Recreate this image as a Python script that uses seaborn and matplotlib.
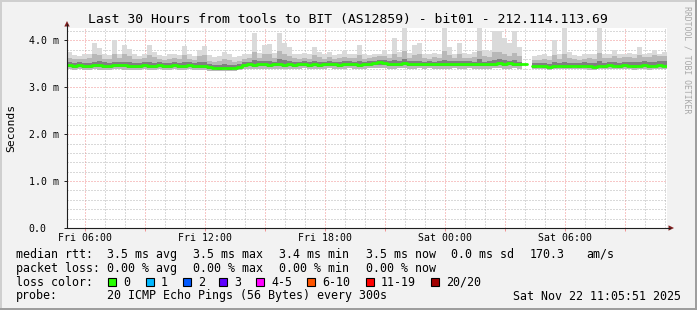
import numpy as np
import pandas as pd
import matplotlib
matplotlib.use("Agg")
import matplotlib.pyplot as plt
import seaborn as sns
from matplotlib.patches import Rectangle, Polygon
from matplotlib.lines import Line2D

# ---------------- data (ms), 15-minute slots starting Fri 05:06 ----------------
nan = np.nan
med = [3.47,3.46,3.47,3.45,3.46,3.47,3.48,3.46,3.45,3.47,
       3.48,3.47,3.46,3.45,3.46,3.47,3.46,3.45,3.47,3.46,
       3.46,3.47,3.45,3.46,3.47,3.46,3.45,3.46,3.43,3.42,
       3.41,3.42,3.41,3.42,3.43,3.48,3.49,3.48,3.50,3.49,
       3.48,3.49,3.50,3.48,3.49,3.48,3.49,3.50,3.48,3.49,
       3.48,3.49,3.50,3.49,3.48,3.49,3.50,3.49,3.48,3.49,
       3.50,3.51,3.53,3.52,3.50,3.49,3.50,3.52,3.50,3.49,
       3.50,3.49,3.50,3.49,3.50,3.49,3.49,3.50,3.49,3.50,
       3.50,3.49,3.50,3.49,3.50,3.50,3.52,3.50,3.51,3.50,
       3.49,3.50,nan,3.45,3.46,3.45,3.44,3.45,3.46,3.45,
       3.45,3.46,3.45,3.46,3.45,3.44,3.46,3.45,3.47,3.46,
       3.45,3.47,3.46,3.45,3.46,3.47,3.45,3.46,3.47,3.46]

ping_min = [3.38,3.37,3.38,3.36,3.37,3.38,3.37,3.37,3.36,3.38,
            3.38,3.37,3.36,3.37,3.37,3.38,3.36,3.37,3.38,3.37,
            3.37,3.38,3.36,3.37,3.38,3.37,3.36,3.37,3.35,3.34,
            3.34,3.35,3.34,3.35,3.36,3.39,3.40,3.39,3.40,3.40,
            3.39,3.40,3.40,3.39,3.40,3.39,3.40,3.41,3.39,3.40,
            3.39,3.40,3.41,3.40,3.39,3.40,3.41,3.40,3.39,3.40,
            3.41,3.41,3.42,3.42,3.40,3.40,3.41,3.41,3.40,3.40,
            3.41,3.40,3.41,3.40,3.40,3.39,3.40,3.41,3.40,3.40,
            3.41,3.40,3.40,3.39,3.40,3.41,3.41,3.40,3.40,3.41,
            3.40,3.40,nan,3.38,3.39,3.38,3.37,3.38,3.39,3.38,
            3.38,3.39,3.38,3.38,3.37,3.37,3.38,3.38,3.39,3.38,
            3.38,3.39,3.38,3.37,3.38,3.39,3.37,3.38,3.39,3.38]

inner_low = [3.43,3.42,3.43,3.41,3.42,3.43,3.44,3.42,3.41,3.43,
             3.44,3.43,3.42,3.41,3.42,3.43,3.42,3.41,3.43,3.42,
             3.42,3.43,3.41,3.42,3.43,3.42,3.41,3.42,3.39,3.38,
             3.37,3.38,3.37,3.38,3.39,3.44,3.45,3.44,3.46,3.45,
             3.44,3.45,3.46,3.44,3.45,3.44,3.45,3.46,3.44,3.45,
             3.44,3.45,3.46,3.45,3.44,3.45,3.46,3.45,3.44,3.45,
             3.46,3.47,3.48,3.47,3.46,3.45,3.46,3.47,3.46,3.45,
             3.46,3.45,3.46,3.45,3.46,3.45,3.45,3.46,3.45,3.46,
             3.46,3.45,3.46,3.45,3.46,3.46,3.47,3.46,3.47,3.46,
             3.45,3.46,nan,3.42,3.43,3.42,3.41,3.42,3.43,3.42,
             3.42,3.43,3.42,3.43,3.42,3.41,3.43,3.42,3.44,3.43,
             3.42,3.44,3.43,3.42,3.43,3.44,3.42,3.43,3.44,3.43]

inner_high = [3.53,3.52,3.54,3.51,3.52,3.55,3.56,3.53,3.52,3.55,
              3.55,3.54,3.53,3.52,3.52,3.54,3.55,3.52,3.53,3.52,
              3.52,3.54,3.51,3.53,3.54,3.52,3.53,3.54,3.50,3.48,
              3.47,3.49,3.48,3.48,3.50,3.54,3.55,3.58,3.56,3.57,
              3.56,3.55,3.60,3.58,3.56,3.55,3.55,3.56,3.54,3.57,
              3.55,3.55,3.56,3.55,3.54,3.56,3.56,3.55,3.57,3.55,
              3.56,3.57,3.59,3.58,3.56,3.58,3.56,3.60,3.56,3.57,
              3.57,3.55,3.56,3.55,3.56,3.58,3.56,3.56,3.57,3.56,
              3.56,3.55,3.60,3.55,3.56,3.59,3.60,3.58,3.57,3.58,
              3.55,3.56,nan,3.51,3.52,3.51,3.50,3.53,3.52,3.54,
              3.52,3.52,3.51,3.53,3.52,3.51,3.56,3.52,3.54,3.53,
              3.52,3.54,3.55,3.53,3.55,3.56,3.54,3.55,3.57,3.56]

mid_high = [3.62,3.60,3.61,3.60,3.62,3.70,3.68,3.61,3.60,3.72,
            3.63,3.70,3.66,3.61,3.60,3.62,3.68,3.64,3.60,3.59,
            3.61,3.62,3.60,3.68,3.61,3.59,3.66,3.68,3.57,3.55,
            3.56,3.60,3.58,3.55,3.57,3.60,3.62,3.75,3.63,3.70,
            3.70,3.63,3.78,3.72,3.66,3.62,3.61,3.63,3.61,3.68,
            3.64,3.61,3.64,3.61,3.62,3.65,3.62,3.63,3.68,3.61,
            3.62,3.64,3.66,3.67,3.63,3.72,3.64,3.78,3.63,3.69,
            3.70,3.62,3.61,3.64,3.62,3.78,3.68,3.62,3.70,3.63,
            3.62,3.64,3.78,3.66,3.65,3.75,3.75,3.70,3.67,3.74,
            3.66,3.62,nan,3.58,3.59,3.61,3.58,3.68,3.60,3.72,
            3.63,3.60,3.59,3.61,3.62,3.60,3.74,3.62,3.63,3.67,
            3.62,3.64,3.65,3.62,3.68,3.64,3.65,3.68,3.66,3.67]

ping_max = [3.75,3.68,3.66,3.70,3.72,3.94,3.83,3.70,3.68,4.00,
            3.72,3.90,3.82,3.70,3.66,3.72,3.90,3.76,3.68,3.66,
            3.70,3.72,3.68,3.89,3.70,3.66,3.80,3.88,3.68,3.64,
            3.66,3.75,3.72,3.64,3.66,3.70,3.72,4.15,3.74,3.90,
            3.93,3.74,4.15,3.95,3.85,3.72,3.70,3.74,3.70,3.85,
            3.76,3.70,3.75,3.68,3.70,3.78,3.70,3.72,3.90,3.70,
            3.68,3.72,3.70,3.80,3.72,4.05,3.76,4.26,3.74,3.90,
            3.95,3.72,3.70,3.74,3.72,4.26,3.85,3.72,3.95,3.74,
            3.70,3.76,4.26,3.80,3.78,4.20,4.20,4.05,3.95,4.20,
            3.85,3.72,nan,3.66,3.68,3.70,3.66,4.00,3.70,4.26,
            3.75,3.68,3.66,3.70,3.72,3.70,4.26,3.72,3.70,3.80,
            3.70,3.72,3.74,3.70,3.85,3.72,3.74,3.80,3.72,3.75]

y_ticks = [0, 1, 2, 3, 4]
y_labels = ["0.0", "1.0 m", "2.0 m", "3.0 m", "4.0 m"]
x_major = [0.9, 3.9, 6.9, 9.9, 12.9, 15.9, 18.9, 21.9, 24.9, 27.9]
x_labels = ["Fri 06:00", "", "Fri 12:00", "", "Fri 18:00", "", "Sat 00:00", "", "Sat 06:00", ""]
loss_labels = ["0", "1", "2", "3", "4-5", "6-10", "11-19", "20/20"]
loss_colors = ["#26ff00", "#00b8ff", "#0059ff", "#5e00ff", "#ff00ff", "#ff5500", "#ff0000", "#a10000"]

title = "Last 30 Hours from tools to BIT (AS12859) - bit01 - 212.114.113.69"

# ---------------- figure ----------------
W, H = 697, 310
sns.set_theme(style="white")
plt.rcParams['font.family'] = ['DejaVu Sans Mono', 'DejaVu Sans']

def fx(x):
    return x / W

def fy(y):
    return 1 - y / H

fig = plt.figure(figsize=(W / 100, H / 100), dpi=100, facecolor='#f2f2f2')
ax = fig.add_axes([fx(67), fy(228), 600 / W, (228 - 27.5) / H])
ax.set_facecolor('white')

n = len(med)
edges = np.arange(n + 1) * 0.25

def ext(a):
    a = np.asarray(a, float)
    return np.append(a, a[-1])

ax.fill_between(edges, ext(ping_min), ext(ping_max), step='post', color='#dadada', lw=0, zorder=2)
ax.fill_between(edges, ext(ping_min), ext(mid_high), step='post', color='#b8b8b8', lw=0, zorder=3)
ax.fill_between(edges, ext(inner_low), ext(inner_high), step='post', color='#808080', lw=0, zorder=4)

# median line (split at the missing slot)
medv = np.asarray(med, float)
rows = []
seg = 0
cur_t, cur_v = [], []
for i in range(n):
    if np.isnan(medv[i]):
        if cur_t:
            cur_t.append(edges[i]); cur_v.append(cur_v[-1])
            rows += [(t, v, seg) for t, v in zip(cur_t, cur_v)]
            seg += 1
            cur_t, cur_v = [], []
        continue
    cur_t.append(edges[i]); cur_v.append(medv[i])
if cur_t:
    cur_t.append(edges[n]); cur_v.append(cur_v[-1])
    rows += [(t, v, seg) for t, v in zip(cur_t, cur_v)]
df = pd.DataFrame(rows, columns=['t', 'v', 'seg'])
sns.lineplot(data=df, x='t', y='v', units='seg', estimator=None, sort=False,
             color='#26ff00', lw=2.0, drawstyle='steps-post', legend=False, ax=ax, zorder=6)

ax.set_xlim(0, 30)
ax.set_ylim(0, (228 - 27.5) / 46.9)

# grid
ax.set_yticks(y_ticks)
ax.set_yticks(np.arange(0, 4.3, 0.2), minor=True)
ax.set_xticks(x_major)
ax.set_xticks(np.arange(0.9, 30, 1.0), minor=True)
ax.set_axisbelow(True)
ax.grid(which='minor', color='#b4b4b4', ls=(0, (1, 2)), lw=0.72, zorder=1)
ax.grid(which='major', color='#f09090', ls=(0, (1, 2)), lw=0.72, zorder=1)

ax.set_yticklabels(y_labels)
ax.set_xticklabels(x_labels)
for lab in ax.get_yticklabels():
    lab.set_horizontalalignment('left')
ax.tick_params(axis='y', which='major', length=2, width=0.7, color='#1f1f1f',
               direction='out', pad=25.5, labelsize=7.1, labelcolor='black', left=True)
ax.tick_params(axis='y', which='minor', length=0)
ax.tick_params(axis='x', which='major', length=2.2, width=0.7, color='#f09090', direction='out',
               pad=1.2, labelsize=7.1, labelcolor='black', bottom=True)
ax.tick_params(axis='x', which='minor', length=0)
for s in ax.spines.values():
    s.set_visible(False)
ax.set_xlabel('')
ax.set_ylabel('Seconds', fontsize=8.2, color='black')
ax.yaxis.label.set_verticalalignment('center')
ax.yaxis.set_label_coords((11 - 67) / 600, 0.5)

# axis lines with arrows
fig.add_artist(Line2D([fx(67), fx(67)], [fy(228), fy(24)], color='#1f1f1f', lw=0.8))
fig.add_artist(Line2D([fx(67), fx(670)], [fy(228), fy(228)], color='#1f1f1f', lw=0.8))
fig.add_artist(Polygon([(fx(67), fy(21)), (fx(64.3), fy(26.5)), (fx(69.7), fy(26.5))],
                       closed=True, color='#801f1f', lw=0))
fig.add_artist(Polygon([(fx(674), fy(228)), (fx(668.5), fy(225.3)), (fx(668.5), fy(230.7))],
                       closed=True, color='#801f1f', lw=0))

# title and watermark
fig.text(fx(348), fy(19), title, ha='center', va='center', fontsize=9.45, color='black')
fig.text(fx(687.5), fy(60), "RRDTOOL / TOBI OETIKER", rotation=270, ha='center', va='center',
         fontsize=5.9, color='#a8a8a8')

# legend rows
fs = 8.4
rows_txt = [
    (254.3, [(16, "median rtt:"), (107.3, "3.5 ms avg"), (193.3, "3.5 ms max"), (279.3, "3.4 ms min"),
             (365.7, "3.5 ms now"), (451, "0.0 ms sd"), (530, "170.3"), (586.7, "am/s")]),
    (268.3, [(16, "packet loss:"), (107.3, "0.00 % avg"), (193.3, "0.00 % max"), (279.3, "0.00 % min"),
             (365.7, "0.00 % now")]),
    (282, [(16, "loss color:")]),
    (296, [(16, "probe:"), (107.3, "20 ICMP Echo Pings (56 Bytes) every 300s"),
           (513.3, "Sat Nov 22 11:05:51 2025")]),
]
for yy, segs in rows_txt:
    for xx, s in segs:
        fig.text(fx(xx), fy(yy), s, ha='left', va='center', fontsize=fs, color='black')

sw_x = [108, 145.7, 182.7, 219, 256, 307, 365.7, 430.7]
for xx, lab, col in zip(sw_x, loss_labels, loss_colors):
    fig.add_artist(Rectangle((fx(xx), fy(286)), 8 / W, 8 / H, transform=fig.transFigure,
                             facecolor=col, edgecolor='black', lw=0.8))
    fig.text(fx(xx + 15), fy(282), lab, ha='left', va='center', fontsize=fs, color='black')

# 3D border
fig.add_artist(Rectangle((0, 0), 2 / W, 1, transform=fig.transFigure, color='#cfcfcf', lw=0))
fig.add_artist(Rectangle((0, 1 - 2 / H), 1, 2 / H, transform=fig.transFigure, color='#cfcfcf', lw=0))
fig.add_artist(Rectangle((1 - 2 / W, 0), 2 / W, 1, transform=fig.transFigure, color='#9e9e9e', lw=0))
fig.add_artist(Rectangle((0, 0), 1, 2 / H, transform=fig.transFigure, color='#9e9e9e', lw=0))

fig.savefig('out.png', dpi=100, facecolor=fig.get_facecolor())
